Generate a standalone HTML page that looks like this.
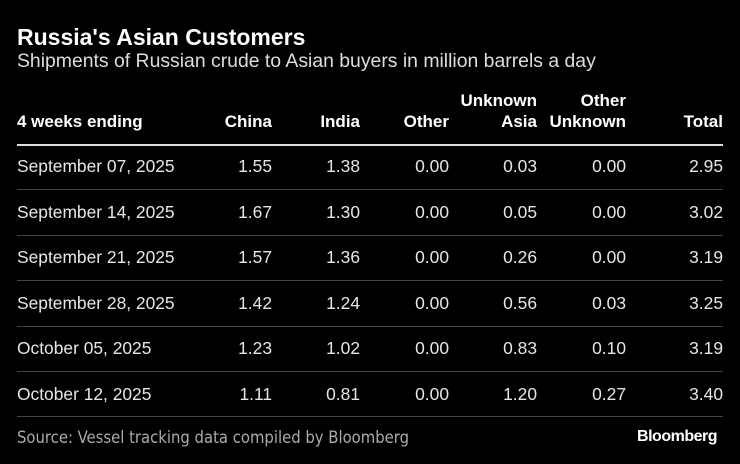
<!DOCTYPE html>
<html><head><meta charset="utf-8"><style>
body{margin:0;background:#000;width:740px;height:464px;overflow:hidden;font-family:"Liberation Sans",sans-serif;color:#fff;position:relative}
.a{position:absolute;white-space:nowrap}
.t{left:17px;top:24px;font-size:23px;font-weight:bold}
.s{left:17px;top:50px;font-size:19.4px;color:#ddd}
.h{font-size:17px;font-weight:bold;line-height:21px;text-align:right}
.c{font-size:17.4px;color:#e6e6e6}
.ln{position:absolute;left:17px;width:706px;height:1px;background:#444}
</style></head><body>
<div class="a t">Russia's Asian Customers</div>
<div class="a s">Shipments of Russian crude to Asian buyers in million barrels a day</div>
<div class="a h" style="left:17px;top:111px;text-align:left">4 weeks ending</div>
<div class="a h" style="right:468px;top:111px">China</div>
<div class="a h" style="right:380px;top:111px">India</div>
<div class="a h" style="right:291px;top:111px">Other</div>
<div class="a h" style="right:203px;top:90px">Unknown<br>Asia</div>
<div class="a h" style="right:114px;top:90px">Other<br>Unknown</div>
<div class="a h" style="right:17px;top:111px">Total</div>
<div class="ln" style="top:144px;height:2px;background:#ddd"></div>
<div id="rows"></div>
<div class="ln" style="top:189px"></div>
<div class="ln" style="top:235px"></div>
<div class="ln" style="top:280px"></div>
<div class="ln" style="top:326px"></div>
<div class="ln" style="top:371px"></div>
<div class="ln" style="top:416px"></div>
<div class="a" style="left:17px;top:428px;font-size:16.5px;color:#aaa;font-family:'Liberation Sans Narrow','DejaVu Sans Condensed',sans-serif">Source: Vessel tracking data compiled by Bloomberg</div>
<div class="a" style="right:23px;top:428px;font-size:16px;font-weight:bold;letter-spacing:-0.5px">Bloomberg</div>
<script>
var d=[["September 07, 2025","1.55","1.38","0.00","0.03","0.00","2.95"],
["September 14, 2025","1.67","1.30","0.00","0.05","0.00","3.02"],
["September 21, 2025","1.57","1.36","0.00","0.26","0.00","3.19"],
["September 28, 2025","1.42","1.24","0.00","0.56","0.03","3.25"],
["October 05, 2025","1.23","1.02","0.00","0.83","0.10","3.19"],
["October 12, 2025","1.11","0.81","0.00","1.20","0.27","3.40"]];
var rs=[468,380,291,203,114,17],h="";
d.forEach(function(r,i){var y=156+i*45.5;
h+='<div class="a c" style="left:17px;top:'+y+'px">'+r[0]+'</div>';
for(var j=1;j<7;j++)h+='<div class="a c" style="right:'+rs[j-1]+'px;top:'+y+'px">'+r[j]+'</div>';});
document.getElementById("rows").innerHTML=h;
</script>
</body></html>
